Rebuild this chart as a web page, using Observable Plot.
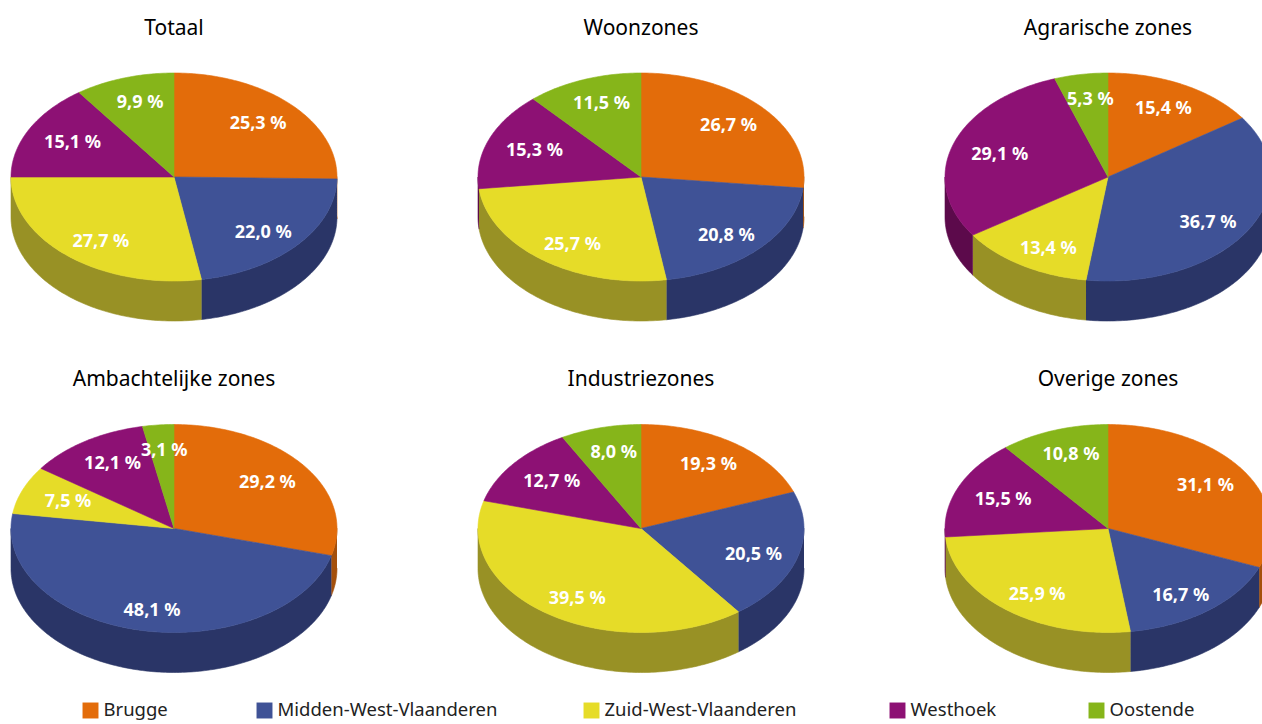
<!DOCTYPE html>
<html>
<head>
<meta charset="utf-8">
<script src="https://cdn.jsdelivr.net/npm/d3@7"></script>
<script src="https://cdn.jsdelivr.net/npm/@observablehq/plot@0.6"></script>
<style>
  html, body { margin: 0; padding: 0; background: #fff; overflow: hidden; }
  #chart svg { overflow: hidden; }
</style>
</head>
<body>
<div id="chart"></div>
<script>
// ---- data ----
const regions = ["Brugge", "Midden-West-Vlaanderen", "Zuid-West-Vlaanderen", "Westhoek", "Oostende"];
const zones = ["Totaal", "Woonzones", "Agrarische zones", "Ambachtelijke zones", "Industriezones", "Overige zones"];
const totaal        = [25.3, 22.0, 27.7, 15.1, 9.9];
const woonzones     = [26.7, 20.8, 25.7, 15.3, 11.5];
const agrarische    = [15.4, 36.7, 13.4, 29.1, 5.3];
const ambachtelijke = [29.2, 48.1, 7.5, 12.1, 3.1];
const industrie     = [19.3, 20.5, 39.5, 12.7, 8.0];
const overige       = [31.1, 16.7, 25.9, 15.5, 10.8];
const series = [totaal, woonzones, agrarische, ambachtelijke, industrie, overige];

const topColors  = ["#e36c0a", "#3f5296", "#e6dc28", "#8d1174", "#86b51a"];
const sideColors = ["#a4500c", "#2a3567", "#989125", "#5c0a4b", "#5d8314"];

// ---- layout ----
const W = 1262, H = 724;
const RX = 163, RY = 104, DEPTH = 40;
const COL0 = 173.5, COLSTEP = 467, ROW0 = 176.5, ROWSTEP = 351.5;
const legendX = [82, 256, 583, 889, 1088];
const legendY = 710;

function pt(cx, cy, a, dy = 0) {
  const r = a * Math.PI / 180;
  return {x: cx + RX * Math.sin(r), y: cy - RY * Math.cos(r) + dy};
}
function arc(cx, cy, a0, a1, dy = 0) {
  const n = Math.max(2, Math.ceil(Math.abs(a1 - a0)));
  const out = [];
  for (let k = 0; k <= n; k++) out.push(pt(cx, cy, a0 + (a1 - a0) * k / n, dy));
  return out;
}

const sides = [], tops = [], labels = [], titles = [];
series.forEach((vals, i) => {
  const cx = COL0 + (i % 3) * COLSTEP;
  const cy = ROW0 + Math.floor(i / 3) * ROWSTEP;
  titles.push({x: cx, y: cy - 149, text: zones[i]});
  const total = d3.sum(vals);
  let acc = 0;
  vals.forEach((v, j) => {
    const a0 = acc / total * 360;
    acc += v;
    const a1 = acc / total * 360;
    const tid = `t${i}-${j}`;
    [{x: cx, y: cy}, ...arc(cx, cy, a0, a1), {x: cx, y: cy}]
      .forEach(p => tops.push({...p, id: tid, color: topColors[j]}));
    const s = Math.max(a0, 90), e = Math.min(a1, 270);
    if (s < e) {
      const sid = `s${i}-${j}`;
      [...arc(cx, cy, s, e), ...arc(cx, cy, e, s, DEPTH)]
        .forEach(p => sides.push({...p, id: sid, color: sideColors[j]}));
    }
    const m = (a0 + a1) / 2 * Math.PI / 180;
    labels.push({
      x: cx + 1.5 + 0.71 * RX * Math.sin(m),
      y: cy + 2.6 - 0.78 * RY * Math.cos(m),
      text: v.toFixed(1).replace(".", ",") + " %"
    });
  });
});

const legend = regions.map((r, j) => ({name: r, x: legendX[j], color: topColors[j]}));

const font = "'Noto Sans', 'Open Sans', sans-serif";

const chart = Plot.plot({
  width: W,
  height: H,
  margin: 0,
  x: {domain: [0, W], range: [0, W], axis: null},
  y: {domain: [0, H], range: [0, H], axis: null},
  color: {type: "identity"},
  style: {fontFamily: font, background: "#fff"},
  marks: [
    Plot.line(sides, {x: "x", y: "y", z: "id", fill: "color", stroke: "color", strokeWidth: 0.6, curve: "linear"}),
    Plot.line(tops, {x: "x", y: "y", z: "id", fill: "color", stroke: "color", strokeWidth: 0.6, curve: "linear"}),
    Plot.text(labels, {x: "x", y: "y", text: "text", fill: "white", fontWeight: "bold", fontSize: 18, fontFamily: font}),
    Plot.text(titles, {x: "x", y: "y", text: "text", fill: "black", fontSize: 21, fontFamily: font}),
    Plot.dot(legend, {x: d => d.x + 8, y: legendY, symbol: "square", r: 9, fill: "color", stroke: null}),
    Plot.text(legend, {x: d => d.x + 21, y: legendY, text: "name", textAnchor: "start", fill: "#222", fontSize: 18.5, fontFamily: font})
  ]
});
document.getElementById("chart").appendChild(chart);
</script>
</body>
</html>
